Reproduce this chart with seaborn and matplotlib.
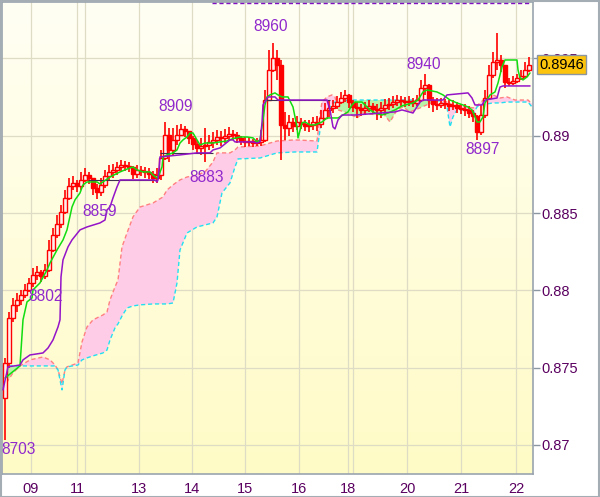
import numpy as np
import matplotlib
matplotlib.use("Agg")
import matplotlib.pyplot as plt
from matplotlib.patches import Rectangle
import matplotlib.transforms as mtransforms
from matplotlib.colors import LinearSegmentedColormap
import seaborn as sns

# ---------------- data (prices) ----------------
open0 = 0.87304
close = [0.87531, 0.87822, 0.87906, 0.87938, 0.87971, 0.88003, 0.88048, 0.88100, 0.88119, 0.88093,
         0.88132, 0.88262, 0.88359, 0.88430, 0.88508, 0.88598, 0.88676, 0.88695, 0.88676, 0.88715,
         0.88747, 0.88727, 0.88663, 0.88637, 0.88682, 0.88740, 0.88766, 0.88779, 0.88799, 0.88812,
         0.88805, 0.88799, 0.88753, 0.88779, 0.88773, 0.88766, 0.88753, 0.88727, 0.88747, 0.88857,
         0.89006, 0.88909, 0.88973, 0.89006, 0.89045, 0.89032, 0.88986, 0.88947, 0.88922, 0.88935,
         0.88941, 0.88960, 0.88973, 0.88993, 0.88986, 0.88999, 0.89012, 0.89006, 0.88986, 0.88967,
         0.88960, 0.88967, 0.88954, 0.88960, 0.88973, 0.89232, 0.89426, 0.89504, 0.89459, 0.89070,
         0.89051, 0.89090, 0.89064, 0.89090, 0.89077, 0.89064, 0.89070, 0.89090, 0.89077, 0.89116,
         0.89167, 0.89180, 0.89193, 0.89219, 0.89245, 0.89265, 0.89219, 0.89187, 0.89180, 0.89167,
         0.89180, 0.89193, 0.89174, 0.89167, 0.89180, 0.89200, 0.89206, 0.89219, 0.89232, 0.89226,
         0.89219, 0.89226, 0.89213, 0.89232, 0.89310, 0.89329, 0.89232, 0.89206, 0.89200, 0.89213,
         0.89206, 0.89193, 0.89200, 0.89180, 0.89174, 0.89167, 0.89148, 0.89129, 0.89025, 0.89135,
         0.89245, 0.89394, 0.89478, 0.89491, 0.89459, 0.89349, 0.89342, 0.89355, 0.89374, 0.89387,
         0.89426, 0.89460]
high = [0.87563, 0.87861, 0.87951, 0.87983, 0.88003, 0.88042, 0.88080, 0.88145, 0.88158, 0.88132,
        0.88171, 0.88326, 0.88404, 0.88488, 0.88553, 0.88650, 0.88727, 0.88740, 0.88715, 0.88766,
        0.88792, 0.88766, 0.88715, 0.88689, 0.88727, 0.88779, 0.88812, 0.88818, 0.88831, 0.88844,
        0.88837, 0.88831, 0.88805, 0.88812, 0.88805, 0.88799, 0.88792, 0.88773, 0.88792, 0.88908,
        0.89090, 0.89051, 0.89051, 0.89070, 0.89077, 0.89064, 0.89032, 0.88999, 0.88973, 0.88986,
        0.89051, 0.89006, 0.89025, 0.89038, 0.89032, 0.89045, 0.89057, 0.89038, 0.89025, 0.88999,
        0.88993, 0.88993, 0.88980, 0.88986, 0.89038, 0.89297, 0.89556, 0.89600, 0.89556, 0.89491,
        0.89155, 0.89135, 0.89116, 0.89129, 0.89116, 0.89103, 0.89103, 0.89122, 0.89129, 0.89167,
        0.89213, 0.89232, 0.89232, 0.89258, 0.89284, 0.89297, 0.89271, 0.89232, 0.89219, 0.89206,
        0.89219, 0.89232, 0.89213, 0.89206, 0.89219, 0.89239, 0.89245, 0.89258, 0.89265, 0.89258,
        0.89252, 0.89258, 0.89245, 0.89265, 0.89362, 0.89400, 0.89336, 0.89252, 0.89245, 0.89245,
        0.89239, 0.89232, 0.89232, 0.89219, 0.89206, 0.89206, 0.89193, 0.89167, 0.89135, 0.89200,
        0.89297, 0.89459, 0.89543, 0.89666, 0.89523, 0.89459, 0.89374, 0.89387, 0.89400, 0.89426,
        0.89478, 0.89510]
low = [0.87030, 0.87498, 0.87796, 0.87861, 0.87906, 0.87951, 0.87990, 0.88020, 0.88067, 0.88055,
       0.88074, 0.88119, 0.88249, 0.88339, 0.88404, 0.88495, 0.88585, 0.88649, 0.88637, 0.88649,
       0.88702, 0.88689, 0.88618, 0.88590, 0.88611, 0.88663, 0.88715, 0.88727, 0.88747, 0.88766,
       0.88773, 0.88766, 0.88721, 0.88727, 0.88740, 0.88727, 0.88721, 0.88695, 0.88695, 0.88715,
       0.88843, 0.88831, 0.88876, 0.88941, 0.88999, 0.88993, 0.88947, 0.88908, 0.88883, 0.88876,
       0.88830, 0.88908, 0.88922, 0.88941, 0.88935, 0.88954, 0.88967, 0.88973, 0.88954, 0.88941,
       0.88928, 0.88935, 0.88928, 0.88935, 0.88935, 0.88960, 0.89265, 0.89413, 0.89361, 0.88843,
       0.88973, 0.88999, 0.89025, 0.89038, 0.89045, 0.89032, 0.89025, 0.89038, 0.89032, 0.89051,
       0.89103, 0.89122, 0.89148, 0.89174, 0.89206, 0.89219, 0.89180, 0.89155, 0.89116, 0.89129,
       0.89135, 0.89155, 0.89142, 0.89103, 0.89116, 0.89135, 0.89167, 0.89180, 0.89193, 0.89193,
       0.89187, 0.89193, 0.89187, 0.89193, 0.89219, 0.89265, 0.89180, 0.89155, 0.89167, 0.89180,
       0.89174, 0.89161, 0.89167, 0.89148, 0.89142, 0.89129, 0.89116, 0.89090, 0.88970, 0.89006,
       0.89116, 0.89232, 0.89374, 0.89426, 0.89413, 0.89310, 0.89323, 0.89329, 0.89342, 0.89361,
       0.89374, 0.89413]

# Ichimoku cloud (senkou span A / B)
span_x = [-0.75, 0.5, 2, 3.75, 6.25, 9.5, 11.25, 12.5, 13.25, 14.25, 15, 15.5, 18.25, 19.25, 20.5,
          22, 24.5, 25.5, 26.25, 27.5, 28.25, 29.25, 30.5, 32, 33.75, 37, 39.5, 40.5, 42, 43,
          43.75, 45.5, 48, 50, 52, 53, 54.25, 56.25, 57.5, 58.25, 63.75, 68, 72.5, 78, 78.75,
          79.25, 80.5, 81.75, 82.5, 83.25, 85.75, 88, 89.5, 93, 94.5, 96.25, 98, 99.5, 101.25,
          103.75, 107, 108.75, 110.5, 111.25, 112, 113, 115.5, 117, 118, 118.75, 120.5, 122,
          123.75, 125.5, 127.5, 130.75, 131.75]
span_a = [0.87369, 0.87407, 0.87466, 0.87511, 0.87550, 0.87569, 0.87550, 0.87517, 0.87485, 0.87395,
          0.87485, 0.87505, 0.87530, 0.87666, 0.87763, 0.87809, 0.87841, 0.87860, 0.87938, 0.88022,
          0.88067, 0.88281, 0.88371, 0.88475, 0.88539, 0.88565, 0.88604, 0.88649, 0.88682, 0.88701,
          0.88714, 0.88733, 0.88746, 0.88766, 0.88830, 0.88889, 0.88889, 0.88889, 0.88908, 0.88927,
          0.88934, 0.88966, 0.88973, 0.88966, 0.89134, 0.89218, 0.89251, 0.89264, 0.89251, 0.89167,
          0.89147, 0.89115, 0.89147, 0.89134, 0.89147, 0.89089, 0.89167, 0.89186, 0.89154, 0.89180,
          0.89218, 0.89231, 0.89218, 0.89206, 0.89199, 0.89193, 0.89186, 0.89180, 0.89193, 0.89212,
          0.89251, 0.89264, 0.89244, 0.89251, 0.89231, 0.89231, 0.89206]
span_b = [0.87511, 0.87511, 0.87511, 0.87511, 0.87511, 0.87511, 0.87511, 0.87511, 0.87485, 0.87356,
          0.87485, 0.87505, 0.87517, 0.87550, 0.87563, 0.87576, 0.87595, 0.87614, 0.87679, 0.87757,
          0.87783, 0.87834, 0.87886, 0.87899, 0.87906, 0.87912, 0.87912, 0.87912, 0.87918, 0.88048,
          0.88261, 0.88371, 0.88410, 0.88423, 0.88436, 0.88475, 0.88630, 0.88695, 0.88798, 0.88850,
          0.88856, 0.88889, 0.88895, 0.88895, 0.89037, 0.89083, 0.89147, 0.89206, 0.89218, 0.89218,
          0.89231, 0.89231, 0.89231, 0.89231, 0.89231, 0.89231, 0.89231, 0.89231, 0.89231, 0.89231,
          0.89231, 0.89225, 0.89186, 0.89057, 0.89122, 0.89167, 0.89167, 0.89134, 0.89186, 0.89199,
          0.89206, 0.89212, 0.89212, 0.89218, 0.89218, 0.89218, 0.89186]

# Tenkan-sen (green)
tenkan_x = [0, 3.75, 4.5, 5.5, 6.75, 7, 8.75, 10.5, 11.25, 13, 14.5, 15.5, 16.75, 17.5, 18.75, 19.5,
            20.5, 23, 23.75, 26.25, 28.75, 31.25, 32, 33, 34.5, 36.25, 37, 38, 38.5, 39.25, 39.5,
            40.5, 42, 43, 43.75, 44.5, 45.5, 46.25, 47, 48, 48.75, 50, 52, 53.75, 55.5, 56.75,
            58.75, 60.5, 62, 63, 63.75, 64.5, 65, 65.5, 66.25, 67.5, 68.25, 69.25, 70.75, 72, 73,
            73.25, 74.25, 75, 76.25, 77.5, 79.25, 80.5, 83.25, 84.5, 85.75, 86.75, 87.5, 89.25, 90,
            91.25, 92.5, 94.25, 95.75, 97.5, 99.25, 102, 103.25, 104.5, 105.5, 108, 109.5, 111.25,
            113, 114.5, 115.75, 116.75, 117.5, 118, 118.75, 119.5, 120, 121.25, 122.5, 123.25,
            124.25, 125, 128, 128.25, 128.75, 129.5, 130.5, 131.25]
tenkan_y = [0.87433, 0.87511, 0.87809, 0.87925, 0.87951, 0.88003, 0.88048, 0.88132, 0.88177, 0.88261,
            0.88326, 0.88391, 0.88539, 0.88585, 0.88630, 0.88682, 0.88701, 0.88701, 0.88688, 0.88733,
            0.88766, 0.88792, 0.88798, 0.88779, 0.88766, 0.88766, 0.88746, 0.88727, 0.88746, 0.88798,
            0.88863, 0.88876, 0.88889, 0.88908, 0.88953, 0.88973, 0.88992, 0.89018, 0.89018, 0.88973,
            0.88940, 0.88953, 0.88953, 0.88960, 0.88966, 0.88979, 0.88992, 0.88992, 0.88986, 0.88960,
            0.88973, 0.89102, 0.89199, 0.89251, 0.89264, 0.89277, 0.89264, 0.89251, 0.89251, 0.89186,
            0.89057, 0.88986, 0.89083, 0.89089, 0.89070, 0.89070, 0.89089, 0.89115, 0.89115, 0.89134,
            0.89154, 0.89199, 0.89218, 0.89218, 0.89199, 0.89167, 0.89147, 0.89134, 0.89147, 0.89167,
            0.89193, 0.89212, 0.89231, 0.89283, 0.89296, 0.89283, 0.89264, 0.89231, 0.89212, 0.89199,
            0.89186, 0.89167, 0.89122, 0.89089, 0.89089, 0.89122, 0.89212, 0.89264, 0.89283, 0.89341,
            0.89445, 0.89490, 0.89490, 0.89426, 0.89374, 0.89361, 0.89380, 0.89406]

# Kijun-sen (purple)
kijun_x = [-0.5, 0.75, 3.75, 4.5, 6.25, 9.5, 10.75, 12, 13.25, 13.75, 14, 14.5, 15.75, 16.75, 18.75,
           20.5, 23.75, 25, 25.5, 26.25, 27, 28, 28.75, 37.5, 38, 38.25, 38.75, 43.75, 48, 51.25,
           52, 53.75, 56.25, 57, 57.5, 62, 63, 63.75, 64.25, 64.5, 65.75, 67.5, 68.25, 80.5, 81.25,
           82, 82.5, 83.25, 84.25, 87.5, 97.5, 99.25, 102, 103.75, 104.5, 109.5, 110.5, 115.75,
           116.75, 117.5, 119.25, 120, 123, 123.75, 124.5, 131.25]
kijun_y = [0.87356, 0.87505, 0.87517, 0.87550, 0.87582, 0.87595, 0.87627, 0.87679, 0.87763, 0.87809,
           0.88087, 0.88197, 0.88281, 0.88326, 0.88391, 0.88410, 0.88436, 0.88455, 0.88520, 0.88539,
           0.88598, 0.88669, 0.88714, 0.88714, 0.88701, 0.88714, 0.88863, 0.88876, 0.88889, 0.88889,
           0.88908, 0.88921, 0.88973, 0.88973, 0.88960, 0.88960, 0.88953, 0.88960, 0.89083, 0.89199,
           0.89251, 0.89251, 0.89231, 0.89231, 0.89167, 0.89057, 0.89044, 0.89102, 0.89134, 0.89134,
           0.89154, 0.89167, 0.89147, 0.89218, 0.89231, 0.89231, 0.89264, 0.89277, 0.89244, 0.89199,
           0.89199, 0.89231, 0.89244, 0.89315, 0.89322, 0.89322]

# dark step segments
step_x0 = [20.75, 38.75, 64.75]
step_x1 = [38.0, 52.0, 81.25]
step_y = [0.88714, 0.88889, 0.89231]

top_level = 0.89859
last_price = "0.8946"

tick_pos = [6.5, 18, 33.5, 46.75, 60, 73.5, 85.75, 100.5, 114, 127.75]
tick_lab = ['09', '11', '13', '14', '15', '16', '18', '20', '21', '22']
extra_grid = [20, 87]
y_ticks = [0.87, 0.875, 0.88, 0.885, 0.89, 0.895]
y_labels = ['0.87', '0.875', '0.88', '0.885', '0.89', '0.895']

ann_text = ['8960', '8909', '8883', '8859', '8802', '8703', '8940', '8897']
ann_x = [66.5, 42.75, 50.5, 23.75, 10.25, 3.5, 104.75, 119.5]
ann_y = [0.89704, 0.89186, 0.88727, 0.88513, 0.87957, 0.86968, 0.89458, 0.88908]

# ---------------- drawing ----------------
sns.set_style("white")
plt.rcParams['font.family'] = ['Liberation Sans', 'DejaVu Sans']

fig = plt.figure(figsize=(6.0, 4.97), dpi=100)
fig.patch.set_facecolor('white')
ax = fig.add_axes([2/600, 1 - 474/497, 531/600, 472/497])

YMIN, YMAX = 0.86812, 0.89865
XMIN, XMAX = -0.75, 132.0
ax.set_xlim(XMIN, XMAX)
ax.set_ylim(YMIN, YMAX)

# background gradient
grad = np.linspace(0, 1, 256).reshape(-1, 1)
cmap = LinearSegmentedColormap.from_list('bg', ['#fffff4', '#fffbc6'])
ax.imshow(grad, extent=[0, 1, 0, 1], transform=ax.transAxes, cmap=cmap,
          aspect='auto', origin='upper', zorder=0)

# grid
gcol = '#dedcc4'
for yv in y_ticks:
    ax.axhline(yv, color=gcol, lw=0.9, zorder=0.5)
for xv in tick_pos + extra_grid:
    ax.axvline(xv, color=gcol, lw=0.9, zorder=0.5)

# cloud
sx = np.array(span_x); sa = np.array(span_a); sb = np.array(span_b)
ax.fill_between(sx, sa, sb, where=sa >= sb, interpolate=True, color='#ffcce8', lw=0, zorder=1)
ax.fill_between(sx, sa, sb, where=sa < sb, interpolate=True, color='#b8f4a8', lw=0, zorder=1)
ax.plot(sx, sa, color='#ff8080', lw=1.0, ls=(0, (3, 2)), zorder=1.5)
ax.plot(sx, sb, color='#22e0f0', lw=1.0, ls=(0, (3, 2)), zorder=1.5)

# candles
opens = [open0] + close[:-1]
for i in range(len(close)):
    o, c, h, l = opens[i], close[i], high[i], low[i]
    ax.vlines(i, l, h, color='#ff0000', lw=1.2, zorder=3)
    up = c >= o
    bottom = min(o, c)
    height = max(abs(c - o), 0.00002)
    ax.add_patch(Rectangle((i - 0.4, bottom), 0.8, height,
                           facecolor='#fff0f0' if up else '#ff0000',
                           edgecolor='#ff0000', lw=1.0, zorder=3.2))

# lines (seaborn)
sns.lineplot(x=tenkan_x, y=tenkan_y, ax=ax, color='#11dd11', lw=1.1, sort=False,
             estimator=None, zorder=4)
sns.lineplot(x=kijun_x, y=kijun_y, ax=ax, color='#9414c8', lw=1.1, sort=False,
             estimator=None, zorder=4)
ax.hlines(step_y, step_x0, step_x1, color='#403050', lw=0.8, zorder=3.9)
ax.hlines(top_level, 51.75, 131.5, color='#8010c0', lw=1.0, linestyles=(0, (3, 2)), zorder=4)

# annotations
for t, xv, yv in zip(ann_text, ann_x, ann_y):
    ax.text(xv, yv, t, color='#9028cc', fontsize=11.2, ha='center', va='center', zorder=6)

# axes styling
ax.yaxis.tick_right()
ax.set_yticks(y_ticks)
ax.set_yticklabels(y_labels)
ax.set_xticks(tick_pos)
ax.set_xticklabels(tick_lab)
ax.tick_params(axis='both', colors='#8a96a2', labelcolor='#5a0060', labelsize=10.5,
               length=5, width=1, direction='out')
ax.tick_params(axis='y', pad=1)
ax.tick_params(axis='x', pad=1)
for s in ax.spines.values():
    s.set_color('#9aa4ae')
    s.set_linewidth(1.2)
ax.set_xlabel('')
ax.set_ylabel('')
if ax.get_legend():
    ax.get_legend().remove()

# last price box (covers the 0.895 label, as in the original)
trans = mtransforms.blended_transform_factory(ax.transAxes, ax.transData)
ax.text(1.012, 0.89460, last_price, transform=trans, ha='left', va='center',
        fontsize=10.5, color='black', zorder=10, clip_on=False,
        bbox=dict(boxstyle='square,pad=0.15', fc='#fcc40c', ec='#8c96a0', lw=1))

# figure border
fig.patches.append(Rectangle((0.001, 0.001), 0.997, 0.997, transform=fig.transFigure,
                             fill=False, edgecolor='#a4acb4', lw=1.5))

fig.savefig('out.png', dpi=100)
